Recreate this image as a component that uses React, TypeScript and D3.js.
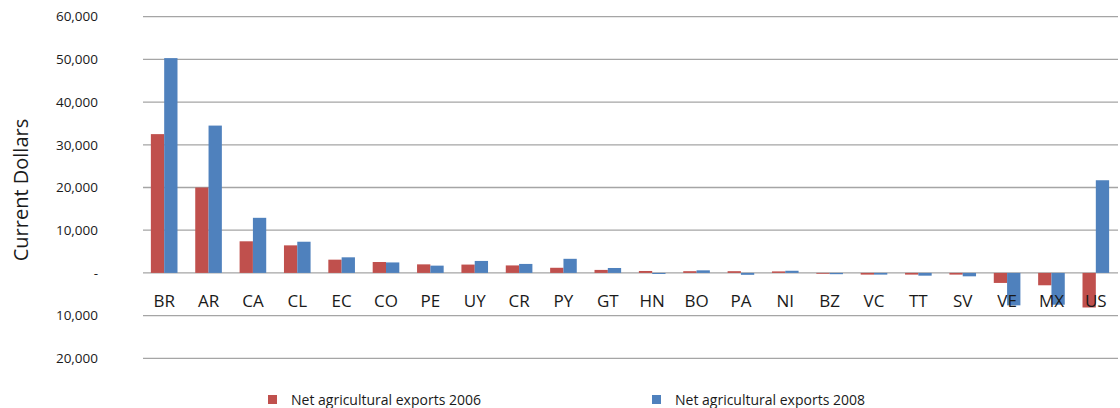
import React from 'react';
import * as d3 from 'd3';

// Net agricultural exports by country (current dollars, millions)
const countries = ['BR', 'AR', 'CA', 'CL', 'EC', 'CO', 'PE', 'UY', 'CR', 'PY', 'GT',
  'HN', 'BO', 'PA', 'NI', 'BZ', 'VC', 'TT', 'SV', 'VE', 'MX', 'US'];
const exports2006 = [32500, 20000, 7400, 6450, 3100, 2550, 2000, 1950, 1750, 1200, 700,
  450, 400, 400, 350, -200, -400, -400, -400, -2350, -2900, -8100];
const exports2008 = [50300, 34500, 12900, 7300, 3650, 2450, 1700, 2800, 2100, 3300, 1150,
  -250, 600, -450, 500, -300, -400, -650, -800, -7600, -7450, 21700];
const yTicks = [60000, 50000, 40000, 30000, 20000, 10000, 0, -10000, -20000];

const series = [
  { name: 'Net agricultural exports 2006', values: exports2006, color: '#c0504d' },
  { name: 'Net agricultural exports 2008', values: exports2008, color: '#4f81bd' },
];

const W = 1120;
const H = 408;
const FONT = '"Open Sans", "Noto Sans", sans-serif';

export default function App() {
  const x = d3.scaleBand<string>().domain(countries).range([142, 1118]).padding(0);
  const y = d3.scaleLinear().domain([-20000, 60000]).range([358.3, 16.7]);
  const bw = x.bandwidth() * 0.3;
  const fmt = d3.format(',');

  return (
    <svg width={W} height={H} style={{ position: 'absolute', left: 0, top: 0, fontFamily: FONT }}>
      <rect width={W} height={H} fill="#fff" />

      {/* gridlines + y labels */}
      {yTicks.map(t => (
        <g key={t}>
          <line x1={143} x2={1118} y1={y(t)} y2={y(t)} stroke="#a5a5a5" strokeWidth={1.3} />
          <text x={98} y={y(t)} dy="0.35em" textAnchor="end" fontSize={13.5} fill="#1a1a1a">
            {t === 0 ? '-' : fmt(Math.abs(t))}
          </text>
        </g>
      ))}

      <text
        transform={`translate(28,190) rotate(-90)`}
        textAnchor="middle"
        fontSize={20}
        fill="#1a1a1a"
      >
        Current Dollars
      </text>

      {/* bars */}
      {series.map((s, si) => (
        <g key={s.name}>
          {s.values.map((v, i) => {
            const cx = (x(countries[i]) ?? 0) + x.bandwidth() / 2;
            const bx = si === 0 ? cx - bw : cx;
            return (
              <rect
                key={countries[i]}
                x={bx}
                y={Math.min(y(v), y(0))}
                width={bw}
                height={Math.abs(y(v) - y(0))}
                fill={s.color}
              />
            );
          })}
        </g>
      ))}

      {/* category labels */}
      {countries.map(c => (
        <text
          key={c}
          x={(x(c) ?? 0) + x.bandwidth() / 2}
          y={306.5}
          textAnchor="middle"
          fontSize={17}
          fill="#1a1a1a"
        >
          {c}
        </text>
      ))}

      {/* legend */}
      {series.map((s, i) => {
        const lx = i === 0 ? 268 : 652;
        return (
          <g key={s.name}>
            <rect x={lx} y={395} width={9} height={9} fill={s.color} />
            <text x={lx + 23} y={404.5} fontSize={14} fill="#1a1a1a">{s.name}</text>
          </g>
        );
      })}
    </svg>
  );
}
